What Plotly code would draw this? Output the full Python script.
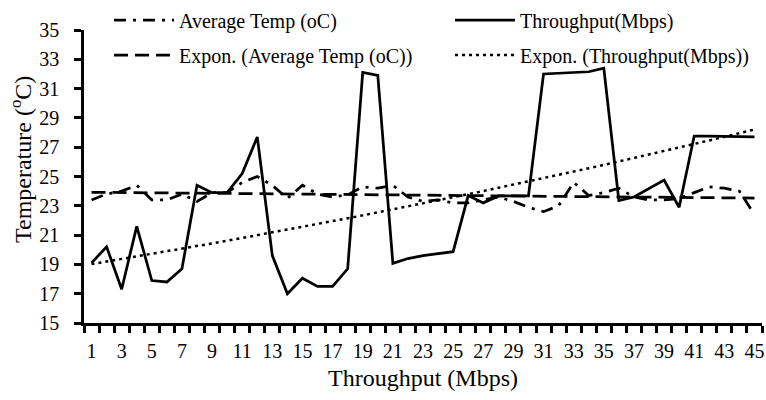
import numpy as np
import plotly.graph_objects as go

x_vals = list(range(1, 46))
avg_temp = [23.4, 23.8, 24.0, 24.4, 23.4, 23.4, 23.8, 23.3, 23.9, 23.9,
            24.6, 25.0, 24.4, 23.5, 24.4, 23.8, 23.6, 23.75, 24.3, 24.2,
            24.4, 23.6, 23.3, 23.4, 23.2, 23.2, 23.4, 23.6, 23.3, 22.9,
            22.6, 23.0, 24.6, 23.7, 23.9, 24.2, 23.6, 23.4, 23.4, 23.5,
            23.9, 24.3, 24.2, 24.0, 22.4]
throughput = [19.1, 20.2, 17.3, 21.6, 17.9, 17.8, 18.7, 24.4, 23.9, 23.9,
              25.2, 27.7, 19.6, 17.0, 18.05, 17.5, 17.5, 18.7, 32.1, 31.9,
              19.07, 19.4, 19.6, 19.75, 19.87, 23.7, 23.2, 23.67, 23.67, 23.67,
              32.0, 32.04, 32.08, 32.15, 32.4, 23.35, 23.6, 24.2, 24.76, 22.9,
              27.76, 27.76, 27.75, 27.73, 27.7]
y_ticks = list(range(15, 36, 2))
x_tick_labels = list(range(1, 46, 2))


def expon_fit(xs, ys):
    xs = np.asarray(xs, float)
    b, ln_a = np.polyfit(xs, np.log(np.asarray(ys, float)), 1)
    return list(np.exp(ln_a) * np.exp(b * xs))


font = "Liberation Serif, Times New Roman, serif"
fig = go.Figure()
fig.add_trace(go.Scatter(x=x_vals, y=avg_temp, mode="lines", name="Average Temp (oC)",
                         line=dict(color="black", width=2.75, dash="12px,7px,3px,7px"),
                         legend="legend"))
fig.add_trace(go.Scatter(x=x_vals, y=throughput, mode="lines", name="Throughput(Mbps)",
                         line=dict(color="black", width=2.75), legend="legend2"))
fig.add_trace(go.Scatter(x=x_vals, y=expon_fit(x_vals, avg_temp), mode="lines",
                         name="Expon. (Average Temp (oC))",
                         line=dict(color="black", width=2.75, dash="14px,7px"),
                         legend="legend3"))
fig.add_trace(go.Scatter(x=x_vals, y=expon_fit(x_vals, throughput), mode="lines",
                         name="Expon. (Throughput(Mbps))",
                         line=dict(color="black", width=2.5, dash="3px,4px"),
                         legend="legend4"))

leg_common = dict(orientation="h", font=dict(family=font, size=20, color="black"),
                  bgcolor="rgba(0,0,0,0)", itemwidth=60,
                  xanchor="left", yanchor="middle", xref="container", yref="container",
                  itemclick=False, itemdoubleclick=False)
fig.update_layout(
    width=766, height=400,
    margin=dict(l=84, r=4, t=30, b=77, autoexpand=False),
    paper_bgcolor="white", plot_bgcolor="white",
    font=dict(family=font, size=20, color="black"),
    showlegend=True,
    legend=dict(**leg_common, x=109 / 766, y=1 - 20 / 400),
    legend2=dict(**leg_common, x=450 / 766, y=1 - 20 / 400),
    legend3=dict(**leg_common, x=109 / 766, y=1 - 55 / 400),
    legend4=dict(**leg_common, x=450 / 766, y=1 - 55 / 400),
    xaxis=dict(range=[0.5, 45.5], tickmode="array", tickvals=x_tick_labels,
               ticktext=[str(v) for v in x_tick_labels], ticks="",
               showline=True, linecolor="black", linewidth=2.5,
               showgrid=False, zeroline=False, ticklabelstandoff=8,
               minor=dict(tickmode="array", tickvals=[v + 0.5 for v in range(0, 46)],
                          ticks="outside", ticklen=7, tickwidth=2.5, tickcolor="black",
                          showgrid=False),
               title=dict(text="Throughput (Mbps)", font=dict(family=font, size=24, color="black"),
                          standoff=9),
               tickfont=dict(family=font, size=20, color="black")),
    yaxis=dict(range=[15, 35], tickmode="array", tickvals=y_ticks,
               ticks="outside", ticklen=7, tickwidth=2.5, tickcolor="black",
               showline=True, linecolor="black", linewidth=2.5,
               showgrid=False, zeroline=False, ticklabelstandoff=11,
               tickfont=dict(family=font, size=20, color="black")),
    annotations=[dict(text="Temperature (<sup>o</sup>C)", textangle=-90,
                      xref="paper", yref="paper", x=-84 / 678 + 21 / 678,
                      y=(323 - 160) / 293, xanchor="center", yanchor="middle",
                      showarrow=False, font=dict(family=font, size=24, color="#000000"))],
)
fig.write_html("out.html", config={"displayModeBar": False},
               post_script="document.body.style.margin='0';document.body.style.padding='0';")
